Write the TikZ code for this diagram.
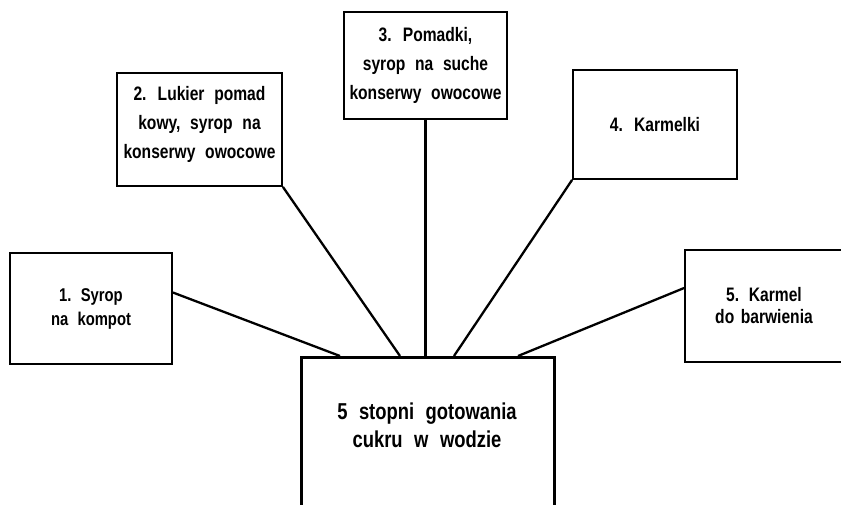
\documentclass[tikz,border=0pt]{standalone}
\usepackage{fontspec}
\newfontfamily\labfont{Liberation Sans}[FakeStretch=0.8]
\newcommand\mylabsz[2]{\labfont\bfseries\fontsize{#1}{#2}\selectfont\spaceskip=0.5em plus 0.1em\relax}
\begin{document}
\begin{tikzpicture}[x=1pt,y=-1pt,
  box/.style={draw=black, line width=1.8pt, rectangle, inner sep=0pt, align=center,
    font=\mylabsz{19.5}{29}},
  boxtext/.style={inner sep=0pt, align=center, font=\mylabsz{19.5}{29}},
  bigbox/.style={draw=black, line width=2.6pt, rectangle, inner sep=0pt, anchor=north west,
    minimum width=253pt, minimum height=170pt},
  bigtext/.style={align=center, inner sep=0pt, font=\mylabsz{23}{28}},
  conn/.style={draw=black, line width=2.3pt}]
\useasboundingbox (0,0) rectangle (841,504);
\fill[white] (0,0) rectangle (841,504);

\node[box, minimum width=162pt, minimum height=111pt, font=\mylabsz{18.5}{24}]
  (b1) at (91,308.5) {1.~Syrop\\na kompot};
\node[box, minimum width=165pt, minimum height=113pt] (b2) at (199.5,129.5) {};
\node[boxtext] (t2) at ([yshift=5pt]b2.center)
  {2. Lukier pomad\\kowy, syrop na\\konserwy owocowe};
\node[box, minimum width=163pt, minimum height=107pt] (b3) at (425.5,65.5)
  {3. Pomadki,\\syrop na suche\\konserwy owocowe};
\node[box, minimum width=164pt, minimum height=109pt] (b4) at (655,124.5)
  {4. Karmelki};
\node[box, minimum width=170pt, minimum height=112pt, text width=150pt, font=\mylabsz{19.5}{22}]
  (b5) at (770,306) {\hspace*{-12pt}5. Karmel\\\hspace*{-12pt}do barwienia};

\node[bigbox] (c) at (300,356) {};
\node[bigtext] (ct) at (427,425) {5 stopni gotowania\\cukru w wodzie};

\draw[conn] ([yshift=16pt]b1.east) -- ([xshift=40pt]c.north west);
\draw[conn] (b2.south east) -- ([xshift=100pt]c.north west);
\draw[conn] (b3.south) -- (b3.south |- c.north);
\draw[conn] (b4.south west) -- ([xshift=154pt]c.north west);
\draw[conn] ([yshift=18pt]b5.west) -- ([xshift=218pt]c.north west);
\end{tikzpicture}
\end{document}
